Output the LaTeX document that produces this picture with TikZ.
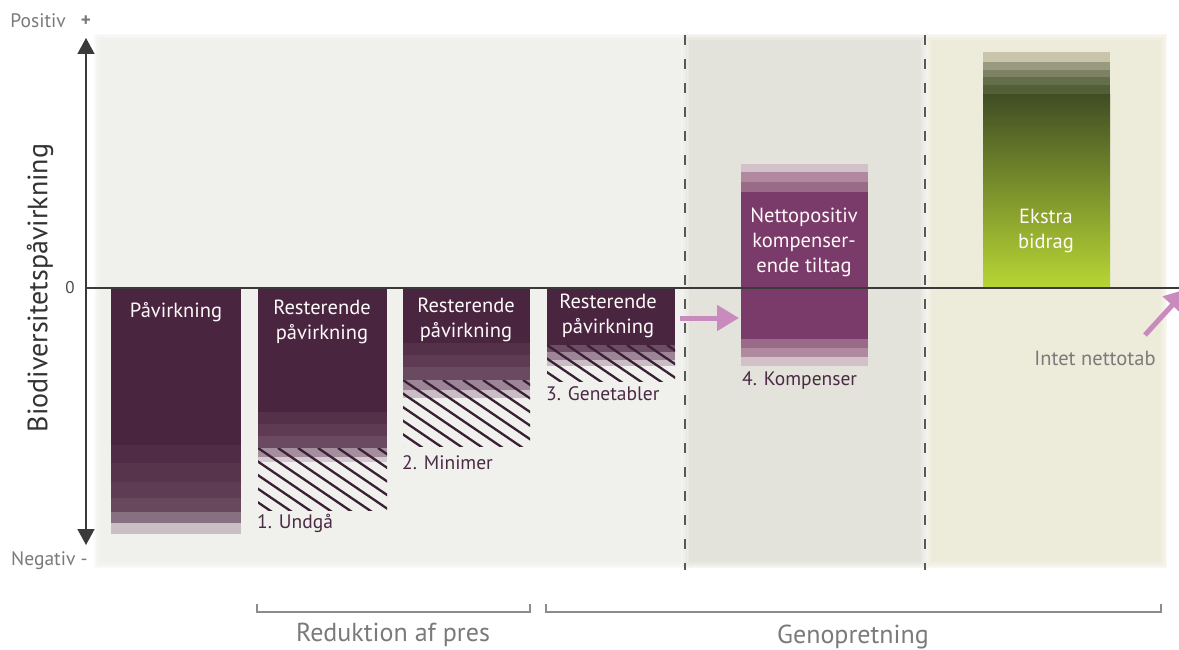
\documentclass[tikz,border=0pt]{standalone}
\usepackage{fontspec}
\setmainfont{PT Sans}
\usetikzlibrary{arrows.meta}

\definecolor{panelA}{HTML}{F0F0ED}
\definecolor{panelB}{HTML}{E4E3DB}
\definecolor{panelC}{HTML}{EDEBDA}
\definecolor{plum}{HTML}{4A2540}
\definecolor{plumtext}{HTML}{4A2A45}
\definecolor{mauve}{HTML}{7B3B6A}
\definecolor{pinkarrow}{HTML}{C98BBD}
\definecolor{axisgray}{HTML}{3A3A3A}
\definecolor{labelgray}{HTML}{7A7A7A}
\definecolor{hatchcol}{HTML}{3A2035}
\definecolor{greentop}{HTML}{404E24}
\definecolor{greenmid}{HTML}{6E8C2A}
\definecolor{greenbot}{HTML}{B8D634}

\tikzset{
  divider/.style={draw=black!65, line width=1.3pt, dash pattern=on 10pt off 14pt},
  bartext/.style={text=white!92!pink, align=center, font=\fontsize{20.5}{25}\selectfont, inner sep=0pt},
  steplabel/.style={text=plumtext, anchor=west, font=\fontsize{19.5}{22}\selectfont, inner sep=0pt},
  graylabel/.style={text=labelgray, font=\fontsize{19.5}{22}\selectfont, inner sep=0pt},
  grouplabel/.style={text=labelgray, font=\fontsize{26}{30}\selectfont, inner sep=0pt},
  bracket/.style={draw=black!45, line width=1.2pt},
  pinkarr/.style={draw=pinkarrow, line width=5pt, -{Triangle[width=25pt,length=22pt]}},
  axisarr/.style={draw=axisgray, line width=1.5pt, {Triangle[width=17pt,length=16pt]}-{Triangle[width=17pt,length=16pt]}},
}

% one coloured horizontal band of a bar: hex colour, x-left, y-top, x-right, y-bottom
\newcommand{\barband}[5]{%
  \definecolor{bandcol}{HTML}{#1}%
  \fill[bandcol] (#2,#3) rectangle (#4,#5);}

% one hatched region: x-left, x-right, y-top, y-bottom
\newcommand{\hatchbox}[4]{%
  \begin{scope}
    \clip (#1,#3) rectangle (#2,#4);
    \foreach \hx in {-120,-100,...,200}{
      \draw[hatchcol, line width=2.3pt] ({#1+\hx},#3) -- ++(200,136);
    }
  \end{scope}}

\begin{document}
\begin{tikzpicture}[x=1pt,y=-1pt]
\useasboundingbox (0,0) rectangle (1179,650);
\clip (0,0) rectangle (1179,650);
\fill[white] (0,0) rectangle (1179,650);

% background panels with soft edges
\foreach \c/\xa/\xb in {panelA/100/681, panelB/689/921, panelC/931/1161}{
  \foreach \e in {6,4.5,3,1.5}{
    \fill[\c, opacity=0.3] (\xa-\e,40-\e) rectangle (\xb+\e,562+\e);
  }
  \fill[\c] (\xa,40) rectangle (\xb,562);
}

% dashed dividers
\draw[divider] (685,35) -- (685,570);
\draw[divider] (925,35) -- (925,570);

% bar 1: impact
\fill[plum] (111,288) rectangle (241,445);
\barband{512C46}{111}{445}{241}{463}
\barband{57344C}{111}{463}{241}{482}
\barband{5E3C54}{111}{482}{241}{498}
\barband{67485D}{111}{498}{241}{512}
\barband{877181}{111}{512}{241}{523}
\barband{C9BFC5}{111}{523}{241}{534}

% bar 2: after avoiding
\fill[plum] (258,288) rectangle (387,412);
\barband{553049}{258}{412}{387}{424}
\barband{5E3B53}{258}{424}{387}{436}
\barband{6A4A60}{258}{436}{387}{448}
\barband{A58E9E}{258}{448}{387}{457}
\barband{D6CAD2}{258}{457}{387}{462}
\hatchbox{258}{387}{448}{510}

% bar 3: after minimising
\fill[plum] (403,288) rectangle (530,343);
\barband{553049}{403}{343}{530}{355}
\barband{5E3B53}{403}{355}{530}{367}
\barband{6A4A60}{403}{367}{530}{380}
\barband{9D8496}{403}{380}{530}{390}
\barband{CBBDC6}{403}{390}{530}{398}
\hatchbox{403}{530}{380}{446}

% bar 4: after restoring
\fill[plum] (547,288) rectangle (675,345);
\barband{6D4D63}{547}{345}{675}{352}
\barband{9D8496}{547}{352}{675}{360}
\barband{CBBDC6}{547}{360}{675}{366}
\hatchbox{547}{675}{345}{381}

% bar 5: net positive offset
\barband{D3C1CA}{741}{164}{868}{172}
\barband{B0899F}{741}{172}{868}{182}
\barband{9A6A89}{741}{182}{868}{192}
\fill[mauve] (741,192) rectangle (868,339);
\barband{9A6A89}{741}{339}{868}{348}
\barband{B0899F}{741}{348}{868}{357}
\barband{D3C1CA}{741}{357}{868}{366}

% bar 6: extra contribution
\barband{C9C5AB}{983}{52}{1110}{62}
\barband{9A9A80}{983}{62}{1110}{70}
\barband{7C8262}{983}{70}{1110}{77}
\barband{646E4A}{983}{77}{1110}{85}
\barband{545F38}{983}{85}{1110}{95}
\shade[top color=greentop, middle color=greenmid, bottom color=greenbot] (983,95) rectangle (1110,288);

% zero line and axis
\coordinate (zl) at (86,288);
\coordinate (zr) at (1179,288);
\draw[axisgray, line width=1.4pt] (zl) -- (zr);
\coordinate (axtop) at (86,38);
\coordinate (axbot) at (86,545);
\draw[axisarr] (axbot) -- (axtop);

% axis texts
\node[graylabel, anchor=east] (pos) at (66,21) {Positiv};
\node[graylabel, font=\fontsize{19}{22}\selectfont\bfseries] (plus) at (86,21) {+};
\node[graylabel, anchor=west] (neg) at (11,561) {Negativ -};
\node[graylabel, text=black!70, font=\fontsize{17}{20}\selectfont] (zero) at (70,288) {0};
\node[rotate=90, text=black!80, font=\fontsize{28}{32}\selectfont, inner sep=0pt] (ylab) at (40,288) {Biodiversitetspåvirkning};

% bar texts
\node[bartext] (t1) at (176,312) {Påvirkning};
\node[bartext] (t2) at (322,322) {Resterende\\påvirkning};
\node[bartext] (t3) at (466,320) {Resterende\\påvirkning};
\node[bartext] (t4) at (608,316) {Resterende\\påvirkning};
\node[bartext] (t5) at (804,242) {Nettopositiv\\kompenser-\\ende tiltag};
\node[bartext] (t6) at (1046,231) {Ekstra\\bidrag};

% step labels
\node[steplabel] (s1) at (257,523) {1. Undgå};
\node[steplabel] (s2) at (402,463) {2. Minimer};
\node[steplabel] (s3) at (546,394) {3. Genetabler};
\node[steplabel] (s4) at (742,381) {4. Kompenser};

% pink arrows
\coordinate (pa1) at (680,318);
\coordinate (pa2) at (739,318);
\draw[pinkarr] (pa1) -- (pa2);
\coordinate (pb1) at (1145,335);
\coordinate (pb2) at (1187,289);
\draw[pinkarr] (pb1) -- (pb2);
\node[graylabel, font=\fontsize{20.5}{24}\selectfont] (net) at (1095,358) {Intet nettotab};

% group brackets
\coordinate (b1l) at (257,612);
\coordinate (b1r) at (530,612);
\draw[bracket] (257,604) -- (b1l) -- (b1r) -- (530,604);
\node[grouplabel] (g1) at (393,635) {Reduktion af pres};
\coordinate (b2l) at (546,612);
\coordinate (b2r) at (1161,612);
\draw[bracket] (546,604) -- (b2l) -- (b2r) -- (1161,604);
\node[grouplabel] (g2) at (853,637) {Genopretning};
\end{tikzpicture}
\end{document}
